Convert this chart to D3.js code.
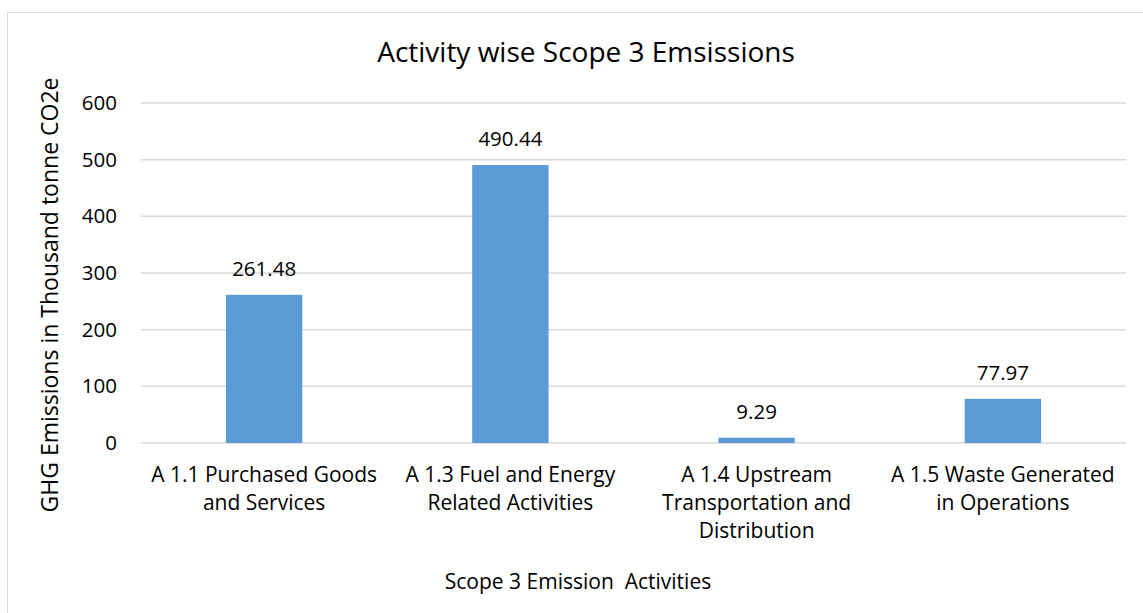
<!DOCTYPE html>
<html>
<head>
<meta charset="utf-8">
<script src="https://cdn.jsdelivr.net/npm/d3@7"></script>
<style>
  body { margin: 0; background: #fff; }
  text { font-family: "Open Sans", sans-serif; fill: #000; }
</style>
</head>
<body>
<div id="chart"></div>
<script>
// chart data
const categories = ["A1.1", "A1.3", "A1.4", "A1.5"];
const categoryLines = [
    ["A 1.1 Purchased Goods", "and Services"],
    ["A 1.3 Fuel and Energy", "Related Activities"],
    ["A 1.4 Upstream", "Transportation and", "Distribution"],
    ["A 1.5 Waste Generated", "in Operations"]
];
const emissions = [261.48, 490.44, 9.29, 77.97];
const yTicks = [0, 100, 200, 300, 400, 500, 600];

const width = 1143, height = 613;
const marginLeft = 141, marginRight = 17, marginTop = 103, marginBottom = 170;

const svg = d3.select("#chart").append("svg")
    .attr("width", width)
    .attr("height", height);

// outer chart border
svg.append("rect")
    .attr("x", 7.5).attr("y", 12.5)
    .attr("width", 1140).attr("height", 620)
    .attr("fill", "none")
    .attr("stroke", "#d9d9d9");

const x = d3.scaleBand()
    .domain(categories)
    .range([marginLeft, width - marginRight])
    .paddingInner(0.69)
    .paddingOuter(0.345);

const y = d3.scaleLinear()
    .domain([0, 600])
    .range([height - marginBottom, marginTop]);

// gridlines
svg.append("g")
    .selectAll("line")
    .data(yTicks)
    .join("line")
    .attr("x1", marginLeft)
    .attr("x2", width - marginRight)
    .attr("y1", d => y(d))
    .attr("y2", d => y(d))
    .attr("stroke", "#d9d9d9")
    .attr("stroke-width", 1.5);

// y axis labels
const yAxis = svg.append("g")
    .attr("transform", `translate(${marginLeft - 24},0)`)
    .call(d3.axisLeft(y).tickValues(yTicks).tickSize(0).tickPadding(0));
yAxis.select(".domain").remove();
yAxis.selectAll("text")
    .attr("font-size", 20.5)
    .attr("font-family", "Open Sans")
    .attr("fill", "#000");

// bars
svg.append("g")
    .attr("fill", "#5b9bd5")
    .selectAll("rect")
    .data(emissions)
    .join("rect")
    .attr("x", (d, i) => x(categories[i]))
    .attr("width", x.bandwidth())
    .attr("y", d => y(d))
    .attr("height", d => y(0) - y(d));

// data labels
svg.append("g")
    .selectAll("text")
    .data(emissions)
    .join("text")
    .attr("x", (d, i) => x(categories[i]) + x.bandwidth() / 2)
    .attr("y", d => y(d) - 19)
    .attr("text-anchor", "middle")
    .attr("font-size", 20.5)
    .text(d => d.toFixed(2));

// category labels
const xAxis = svg.append("g")
    .selectAll("text")
    .data(categories)
    .join("text")
    .attr("text-anchor", "middle")
    .attr("font-size", 21)
    .attr("y", 482);
xAxis.each(function(c, i) {
    d3.select(this).selectAll("tspan")
        .data(categoryLines[i])
        .join("tspan")
        .attr("x", x(c) + x.bandwidth() / 2)
        .attr("dy", (d, j) => j === 0 ? 0 : 28)
        .text(d => d);
});

// title
svg.append("text")
    .attr("x", 586)
    .attr("y", 62)
    .attr("text-anchor", "middle")
    .attr("font-size", 28)
    .text("Activity wise Scope 3 Emsissions");

// axis titles
svg.append("text")
    .attr("x", 578)
    .attr("y", 589)
    .attr("text-anchor", "middle")
    .attr("font-size", 21)
    .attr("xml:space", "preserve")
    .text("Scope 3 Emission  Activities");

svg.append("text")
    .attr("transform", "translate(58,295) rotate(-90)")
    .attr("text-anchor", "middle")
    .attr("font-size", 23)
    .text("GHG Emissions in Thousand tonne CO2e");
</script>
</body>
</html>
